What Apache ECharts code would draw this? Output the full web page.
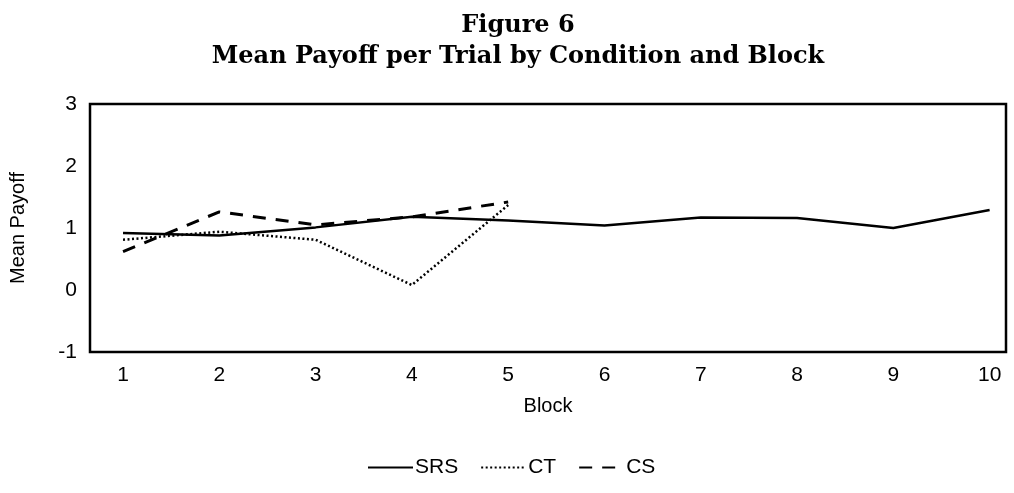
<!DOCTYPE html>
<html>
<head>
<meta charset="utf-8">
<script src="https://cdn.jsdelivr.net/npm/echarts@6/dist/echarts.min.js"></script>
<style>
  html, body { margin: 0; padding: 0; background: #fff; }
  #chart { width: 1014px; height: 493px; }
</style>
</head>
<body>
<div id="chart"></div>
<script>
// data
const blocks = [1, 2, 3, 4, 5, 6, 7, 8, 9, 10]
const srs = [0.92, 0.88, 1.01, 1.18, 1.12, 1.04, 1.17, 1.16, 1.00, 1.29]
const ct = [0.81, 0.94, 0.81, 0.08, 1.37]
const cs = [0.62, 1.26, 1.05, 1.18, 1.42]
const yTicks = [-1, 0, 1, 2, 3]

const pairs = (vals) => vals.map((v, i) => [blocks[i], v])

const chart = echarts.init(document.getElementById('chart'))
const sans = 'Liberation Sans'
const option = {
  animation: false,
  title: {
    text: 'Figure 6\nMean Payoff per Trial by Condition and Block',
    left: 513,
    textAlign: 'center',
    top: 5,
    textStyle: {
      fontFamily: 'DejaVu Serif',
      fontWeight: 'bold',
      fontSize: 24,
      lineHeight: 31,
      color: '#000'
    }
  },
  grid: {
    left: 90,
    right: 8,
    top: 104,
    bottom: 141,
    show: true,
    borderColor: '#000',
    borderWidth: 2.5
  },
  legend: {
    bottom: 10,
    left: 362,
    itemWidth: 45,
    itemHeight: 14,
    itemGap: 22,
    itemStyle: { color: 'transparent', borderColor: 'transparent', borderWidth: 0 },
    textStyle: { fontFamily: sans, fontSize: 21, color: '#000', padding: [0, 0, 0, -3] },
    data: ['SRS', 'CT', 'CS']
  },
  xAxis: {
    type: 'value',
    min: 0.657,
    max: 10.17,
    name: 'Block',
    nameLocation: 'middle',
    nameGap: 44,
    nameTextStyle: { fontFamily: sans, fontSize: 20, color: '#000' },
    axisLine: { show: false },
    axisTick: { show: false },
    splitLine: { show: false },
    axisLabel: {
      customValues: blocks,
      margin: 13,
      fontFamily: sans,
      fontSize: 21,
      color: '#000'
    }
  },
  yAxis: {
    type: 'value',
    min: -1,
    max: 3,
    interval: 1,
    name: 'Mean Payoff',
    nameLocation: 'middle',
    nameGap: 62,
    nameTextStyle: { fontFamily: sans, fontSize: 20, color: '#000' },
    axisLine: { show: false },
    axisTick: { show: false },
    splitLine: { show: false },
    axisLabel: {
      customValues: yTicks,
      margin: 13,
      fontFamily: sans,
      fontSize: 21,
      color: '#000'
    }
  },
  series: [
    {
      name: 'SRS',
      type: 'line',
      data: pairs(srs),
      symbol: 'none',
      itemStyle: { color: '#000' },
      lineStyle: { color: '#000', width: 2.5, type: 'solid' }
    },
    {
      name: 'CT',
      type: 'line',
      data: pairs(ct),
      symbol: 'none',
      itemStyle: { color: '#000' },
      lineStyle: { color: '#000', width: 2.5, type: [2, 2.5] }
    },
    {
      name: 'CS',
      type: 'line',
      data: pairs(cs),
      symbol: 'none',
      itemStyle: { color: '#000' },
      lineStyle: { color: '#000', width: 3, type: [13, 10] }
    }
  ]
}
chart.setOption(option)
</script>
</body>
</html>
